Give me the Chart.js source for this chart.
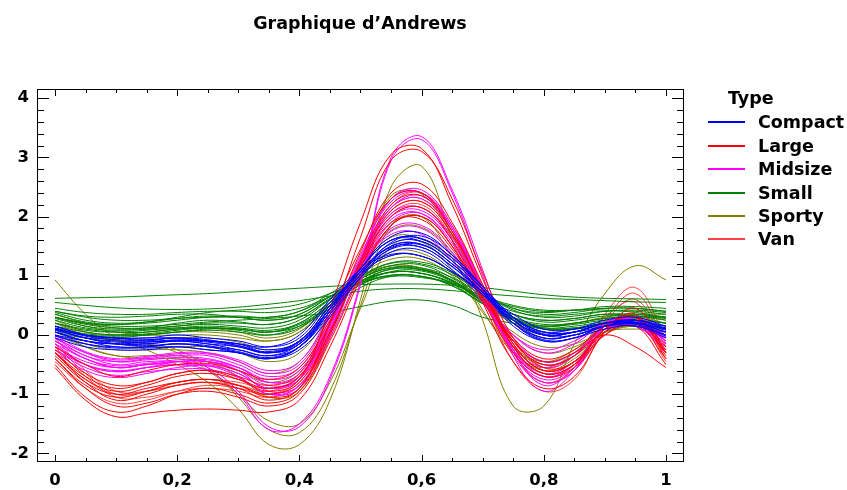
<!DOCTYPE html>
<html>
<head>
<meta charset="utf-8">
<script src="https://cdn.jsdelivr.net/npm/chart.js@4.4.1/dist/chart.umd.min.js"></script>
<style>
  body { margin: 0; background: #fff; }
  #wrap { position: relative; width: 847px; height: 490px; overflow: hidden;
          font-family: "DejaVu Sans", sans-serif; font-weight: bold; color: #000; }
  #chart { position: absolute; left: 0; top: 0; }
  #title { position: absolute; left: 0; top: 13px; width: 720px; text-align: center;
           font-size: 17.5px; line-height: 20px; }
  .lg { position: absolute; font-size: 17.5px; line-height: 20px; white-space: nowrap; }
  .lgline { position: absolute; width: 37px; height: 2px; }
</style>
</head>
<body>
<div id="wrap">
  <canvas id="chart" width="847" height="490"></canvas>
  <div id="title">Graphique d’Andrews</div>
  <div id="legend"></div>
</div>
<script>
// ====== data ======
// t positions where each curve was read
const T = [0,0.05,0.1,0.15,0.2,0.25,0.3,0.35,0.4,0.45,0.5,0.55,0.6,0.65,0.7,0.75,0.8,0.85,0.9,0.95,1];

const TYPES  = ["Compact","Large","Midsize","Small","Sporty","Van"];
const COLORS = ["#0000ff","#ff0000","#ff00ff","#008000","#808000","#ff4040"];

const X_TICKS  = [0,0.2,0.4,0.6,0.8,1];
const X_LABELS = ["0","0,2","0,4","0,6","0,8","1"];
const Y_TICKS  = [-2,-1,0,1,2,3,4];

const compact = [
  [0.15,0.0,-0.05,-0.05,0.0,-0.05,-0.1,-0.2,-0.05,0.55,1.05,1.45,1.48,1.15,0.72,0.3,0.05,0.1,0.2,0.25,0.15],
  [0.05,-0.1,-0.15,-0.15,-0.1,-0.15,-0.2,-0.3,-0.15,0.45,1.12,1.6,1.62,1.3,0.78,0.25,0.0,0.05,0.2,0.2,0.05],
  [0.1,-0.05,-0.15,-0.18,-0.15,-0.2,-0.3,-0.4,-0.2,0.4,1.12,1.66,1.72,1.35,0.82,0.25,-0.05,0.0,0.15,0.25,0.1],
  [0.0,-0.15,-0.2,-0.2,-0.15,-0.2,-0.25,-0.35,-0.2,0.35,0.97,1.4,1.43,1.1,0.68,0.2,-0.05,0.0,0.15,0.15,0.0],
  [0.1,-0.05,-0.1,-0.1,-0.05,-0.1,-0.15,-0.25,-0.1,0.5,1.07,1.5,1.53,1.2,0.72,0.3,0.05,0.05,0.15,0.2,0.1],
  [-0.05,-0.2,-0.25,-0.25,-0.2,-0.25,-0.3,-0.4,-0.25,0.3,0.97,1.46,1.52,1.2,0.72,0.15,-0.1,-0.05,0.1,0.15,-0.05],
  [0.15,0.0,-0.05,-0.05,-0.05,-0.1,-0.15,-0.2,0.0,0.6,1.1,1.36,1.33,1.07,0.73,0.35,0.1,0.1,0.25,0.3,0.15],
  [0.05,-0.1,-0.2,-0.22,-0.2,-0.25,-0.3,-0.4,-0.2,0.45,1.12,1.6,1.58,1.25,0.77,0.2,-0.1,-0.05,0.15,0.2,0.05],
  [0.0,-0.1,-0.15,-0.15,-0.1,-0.1,-0.15,-0.3,-0.15,0.4,1.02,1.56,1.67,1.35,0.82,0.3,0.0,0.0,0.15,0.2,0.0],
  [0.1,0.0,-0.05,-0.1,-0.1,-0.15,-0.25,-0.35,-0.15,0.45,1.02,1.34,1.33,1.07,0.68,0.25,0.0,0.05,0.2,0.25,0.1],
  [0.05,-0.1,-0.15,-0.12,-0.1,-0.12,-0.2,-0.3,-0.1,0.5,1.07,1.48,1.48,1.16,0.72,0.25,0.0,0.05,0.2,0.2,0.05],
  [0.12,-0.02,-0.08,-0.08,-0.05,-0.08,-0.18,-0.3,-0.12,0.45,1.07,1.54,1.58,1.25,0.77,0.3,0.05,0.05,0.2,0.25,0.12],
  [-0.02,-0.15,-0.22,-0.2,-0.15,-0.18,-0.28,-0.38,-0.2,0.4,1.02,1.5,1.53,1.2,0.72,0.2,-0.08,-0.05,0.15,0.18,-0.02],
  [0.08,-0.05,-0.12,-0.12,-0.08,-0.1,-0.18,-0.28,-0.1,0.5,1.12,1.6,1.63,1.3,0.82,0.3,0.02,0.05,0.2,0.22,0.08]
];

const large = [
  [-0.3,-0.7,-0.9,-0.8,-0.65,-0.6,-0.75,-0.95,-0.75,0.45,1.9,3.05,3.15,2.2,0.95,-0.15,-0.6,-0.45,0.05,0.25,-0.3],
  [-0.4,-0.85,-1.05,-0.95,-0.8,-0.75,-0.85,-1.05,-0.9,0.2,1.65,2.95,3.1,2.3,1.05,-0.05,-0.55,-0.45,0.1,0.35,-0.4],
  [-0.25,-0.65,-0.85,-0.8,-0.65,-0.6,-0.7,-0.85,-0.65,0.35,1.45,2.3,2.4,1.75,0.75,-0.1,-0.5,-0.35,0.15,0.3,-0.25],
  [-0.5,-1.05,-1.3,-1.2,-1.0,-0.9,-1.0,-1.15,-0.95,0.0,1.25,2.2,2.35,1.75,0.75,-0.2,-0.65,-0.5,0.0,0.15,-0.5],
  [-0.55,-1.1,-1.38,-1.32,-1.27,-1.25,-1.27,-1.3,-1.1,-0.2,0.95,1.85,2.0,1.5,0.65,-0.1,-0.45,-0.3,0.0,-0.2,-0.55],
  [-0.35,-0.8,-1.0,-0.9,-0.8,-0.75,-0.85,-1.0,-0.8,0.05,1.2,2.1,2.25,1.7,0.75,-0.15,-0.6,-0.45,0.1,0.3,-0.35],
  [-0.3,-0.8,-1.1,-1.0,-0.85,-0.8,-0.9,-1.1,-0.9,0.05,1.15,2.0,2.15,1.6,0.55,-0.45,-0.9,-0.7,0.05,0.45,-0.3],
  [-0.2,-0.5,-0.7,-0.6,-0.5,-0.48,-0.6,-0.75,-0.55,0.25,1.15,1.9,1.95,1.45,0.65,-0.05,-0.4,-0.25,0.15,0.3,-0.2],
  [-0.4,-0.9,-1.2,-1.15,-1.0,-0.95,-1.05,-1.2,-1.0,-0.1,1.0,1.85,2.0,1.5,0.6,-0.3,-0.7,-0.55,0.0,0.2,-0.4],
  [-0.3,-0.75,-0.95,-0.85,-0.7,-0.65,-0.75,-0.9,-0.7,0.2,1.4,2.4,2.55,1.9,0.85,-0.2,-0.65,-0.5,0.1,0.3,-0.3]
];

const midsize = [
  [-0.1,-0.35,-0.5,-0.45,-0.45,-0.55,-0.95,-1.55,-1.55,-0.75,0.85,2.95,3.3,2.4,1.0,-0.35,-0.95,-0.6,0.15,0.3,-0.1],
  [-0.15,-0.4,-0.55,-0.5,-0.5,-0.6,-1.0,-1.6,-1.5,-0.7,0.9,3.0,3.35,2.45,1.1,-0.25,-0.85,-0.55,0.2,0.25,-0.15],
  [-0.05,-0.35,-0.45,-0.4,-0.35,-0.35,-0.5,-0.7,-0.55,0.25,1.25,2.05,2.15,1.65,0.75,-0.05,-0.45,-0.3,0.15,0.2,-0.05],
  [-0.2,-0.5,-0.62,-0.55,-0.5,-0.5,-0.65,-0.9,-0.75,0.15,1.25,2.15,2.3,1.75,0.8,-0.15,-0.6,-0.45,0.1,0.2,-0.2],
  [-0.1,-0.4,-0.52,-0.48,-0.42,-0.42,-0.55,-0.8,-0.7,0.1,1.15,1.95,2.05,1.5,0.6,-0.2,-0.55,-0.35,0.15,0.25,-0.1],
  [-0.3,-0.6,-0.72,-0.65,-0.55,-0.52,-0.65,-0.9,-0.7,0.2,1.35,2.25,2.4,1.8,0.75,-0.3,-0.8,-0.6,0.05,0.15,-0.3],
  [-0.05,-0.3,-0.42,-0.38,-0.32,-0.32,-0.45,-0.65,-0.5,0.3,1.15,1.8,1.85,1.4,0.65,0.0,-0.3,-0.15,0.2,0.25,-0.05],
  [-0.25,-0.55,-0.68,-0.62,-0.58,-0.58,-0.72,-1.0,-0.85,0.05,1.2,2.15,2.35,1.8,0.8,-0.25,-0.7,-0.5,0.1,0.15,-0.25],
  [0.0,-0.28,-0.4,-0.36,-0.3,-0.3,-0.42,-0.6,-0.45,0.35,1.15,1.7,1.7,1.25,0.55,0.0,-0.25,-0.1,0.2,0.25,0.0],
  [-0.15,-0.5,-0.62,-0.55,-0.45,-0.45,-0.6,-0.95,-0.85,0.0,1.25,2.3,2.45,1.85,0.8,-0.3,-0.75,-0.55,0.1,0.2,-0.15],
  [-0.1,-0.4,-0.55,-0.5,-0.45,-0.45,-0.6,-0.85,-0.75,0.1,1.3,2.3,2.4,1.8,0.75,-0.25,-0.7,-0.5,0.1,0.2,-0.1],
  [-0.2,-0.45,-0.55,-0.5,-0.45,-0.45,-0.55,-0.75,-0.6,0.2,1.1,1.75,1.8,1.35,0.6,-0.1,-0.45,-0.3,0.1,0.15,-0.2],
  [-0.05,-0.3,-0.45,-0.42,-0.38,-0.4,-0.55,-0.8,-0.65,0.2,1.2,2.0,2.1,1.6,0.7,-0.1,-0.5,-0.35,0.15,0.25,-0.05],
  [-0.25,-0.5,-0.6,-0.55,-0.5,-0.52,-0.7,-1.0,-0.9,-0.05,1.05,1.9,2.05,1.55,0.65,-0.25,-0.65,-0.45,0.1,0.2,-0.25]
];

const small = [
  [0.62,0.63,0.64,0.66,0.68,0.7,0.73,0.76,0.79,0.82,0.85,0.86,0.86,0.84,0.8,0.74,0.68,0.64,0.62,0.61,0.6],
  [0.55,0.5,0.46,0.44,0.43,0.44,0.47,0.52,0.58,0.66,0.74,0.78,0.78,0.75,0.7,0.66,0.62,0.6,0.58,0.56,0.55],
  [0.3,0.2,0.15,0.15,0.18,0.22,0.25,0.28,0.32,0.38,0.48,0.57,0.59,0.5,0.3,0.2,0.15,0.2,0.28,0.32,0.3],
  [0.4,0.3,0.25,0.25,0.28,0.3,0.3,0.3,0.4,0.7,1.0,1.22,1.23,1.05,0.72,0.45,0.35,0.38,0.45,0.45,0.4],
  [0.3,0.18,0.12,0.12,0.15,0.18,0.15,0.12,0.25,0.6,0.95,1.17,1.18,0.96,0.62,0.35,0.25,0.28,0.35,0.35,0.3],
  [0.2,0.1,0.05,0.05,0.1,0.12,0.1,0.05,0.2,0.55,0.9,1.11,1.1,0.92,0.58,0.3,0.18,0.2,0.28,0.28,0.2],
  [0.25,0.12,0.08,0.1,0.15,0.2,0.2,0.18,0.3,0.6,0.9,1.06,1.04,0.88,0.58,0.35,0.25,0.28,0.35,0.32,0.25],
  [0.1,0.0,-0.02,0.0,0.05,0.08,0.05,0.0,0.15,0.5,0.85,1.07,1.08,0.9,0.56,0.25,0.1,0.12,0.2,0.2,0.1],
  [0.35,0.22,0.18,0.2,0.25,0.3,0.32,0.3,0.4,0.65,0.92,1.06,1.04,0.88,0.6,0.4,0.32,0.35,0.4,0.4,0.35],
  [0.15,0.05,0.0,0.02,0.08,0.12,0.1,0.05,0.18,0.5,0.85,1.01,0.99,0.83,0.53,0.25,0.12,0.15,0.22,0.22,0.15],
  [0.3,0.2,0.18,0.22,0.3,0.38,0.42,0.45,0.52,0.7,0.88,0.99,0.97,0.86,0.66,0.5,0.42,0.42,0.42,0.38,0.3],
  [0.05,-0.05,-0.05,0.0,0.05,0.1,0.1,0.05,0.15,0.45,0.8,0.99,0.99,0.83,0.53,0.25,0.1,0.1,0.15,0.15,0.05],
  [0.4,0.32,0.3,0.32,0.35,0.35,0.3,0.25,0.35,0.65,0.95,1.14,1.13,0.97,0.68,0.45,0.38,0.42,0.45,0.45,0.4],
  [0.28,0.15,0.1,0.12,0.2,0.25,0.22,0.18,0.3,0.62,0.95,1.13,1.11,0.93,0.6,0.35,0.22,0.25,0.32,0.32,0.28],
  [0.2,0.08,0.05,0.08,0.12,0.15,0.12,0.08,0.2,0.55,0.88,1.06,1.04,0.86,0.53,0.28,0.15,0.18,0.25,0.25,0.2],
  [0.38,0.25,0.2,0.22,0.28,0.32,0.3,0.25,0.35,0.65,0.98,1.21,1.2,1.02,0.7,0.42,0.3,0.32,0.4,0.42,0.38],
  [0.12,0.02,0.0,0.05,0.1,0.12,0.08,0.0,0.12,0.5,0.9,1.11,1.1,0.92,0.58,0.28,0.12,0.12,0.18,0.18,0.12],
  [0.45,0.38,0.35,0.35,0.38,0.4,0.4,0.38,0.45,0.65,0.88,1.01,0.99,0.86,0.63,0.48,0.4,0.42,0.48,0.48,0.45]
];

const sporty = [
  [0.93,0.35,-0.05,-0.25,-0.5,-0.8,-1.25,-1.85,-1.85,-1.1,0.6,2.5,2.85,1.6,0.25,-1.2,-1.2,-0.15,0.7,1.17,0.93],
  [0.25,0.05,-0.1,-0.15,-0.25,-0.55,-1.05,-1.6,-1.65,-0.95,0.5,1.85,2.0,1.3,0.42,-0.3,-0.55,-0.3,0.2,0.35,0.25],
  [0.2,0.0,-0.1,-0.15,-0.3,-0.6,-1.0,-1.45,-1.5,-0.8,0.45,1.5,1.57,1.1,0.38,-0.2,-0.45,-0.25,0.15,0.3,0.2],
  [0.3,0.15,0.05,0.0,0.0,0.0,-0.05,-0.1,0.05,0.55,1.02,1.28,1.28,1.0,0.58,0.2,0.0,0.05,0.2,0.3,0.3],
  [0.2,0.05,0.0,0.0,0.05,0.05,0.0,-0.1,0.05,0.5,0.97,1.17,1.13,0.92,0.53,0.2,0.05,0.1,0.2,0.25,0.2],
  [0.1,-0.05,-0.15,-0.2,-0.2,-0.2,-0.3,-0.45,-0.3,0.35,1.02,1.4,1.38,1.05,0.53,0.05,-0.2,-0.15,0.05,0.15,0.1],
  [0.0,-0.2,-0.35,-0.4,-0.4,-0.45,-0.6,-0.8,-0.6,0.2,1.15,1.77,1.82,1.38,0.57,-0.2,-0.5,-0.35,0.05,0.15,0.0],
  [0.15,0.0,-0.08,-0.08,-0.05,-0.05,-0.12,-0.25,-0.1,0.45,1.02,1.34,1.33,1.06,0.63,0.2,-0.05,0.0,0.15,0.2,0.15],
  [0.35,0.2,0.12,0.1,0.12,0.12,0.05,-0.05,0.1,0.55,0.97,1.17,1.13,0.92,0.58,0.3,0.15,0.2,0.3,0.35,0.35],
  [0.05,-0.15,-0.25,-0.25,-0.25,-0.3,-0.45,-0.65,-0.45,0.3,1.12,1.65,1.62,1.25,0.62,0.0,-0.3,-0.2,0.05,0.1,0.05],
  [0.1,-0.2,-0.35,-0.35,-0.35,-0.45,-0.7,-1.05,-0.95,-0.05,1.25,2.35,2.38,1.68,0.68,-0.25,-0.6,-0.4,0.05,0.15,0.1]
];

const van = [
  [-0.05,-0.6,-0.95,-0.95,-0.85,-0.8,-0.85,-0.95,-0.7,0.2,1.25,2.1,2.25,1.7,0.75,-0.2,-0.7,-0.5,0.35,0.8,-0.05],
  [-0.15,-0.65,-1.0,-0.95,-0.85,-0.8,-0.9,-1.0,-0.75,0.2,1.3,2.15,2.3,1.7,0.7,-0.3,-0.8,-0.55,0.25,0.7,-0.15],
  [-0.3,-0.75,-1.0,-0.95,-0.8,-0.75,-0.8,-0.9,-0.7,0.15,1.25,2.2,2.4,1.85,0.85,-0.1,-0.55,-0.35,0.3,0.55,-0.3],
  [-0.45,-0.9,-1.15,-1.1,-0.95,-0.85,-0.9,-1.0,-0.8,0.1,1.2,2.05,2.2,1.65,0.65,-0.45,-0.95,-0.75,0.05,0.25,-0.45],
  [-0.2,-0.7,-1.05,-1.05,-0.95,-0.9,-0.95,-1.05,-0.85,0.05,1.15,2.0,2.15,1.6,0.65,-0.35,-0.8,-0.6,0.2,0.6,-0.2]
];

const GROUPS = [compact, large, midsize, small, sporty, van];

// ====== datasets ======
const datasets = [];
GROUPS.forEach((g, k) => {
  g.forEach(vals => {
    datasets.push({
      label: TYPES[k],
      data: vals.map((y, i) => ({ x: T[i], y })),
      borderColor: COLORS[k],
      borderWidth: 1,
      pointRadius: 0,
      tension: 0.4,
      fill: false
    });
  });
});

// cadre + graduations vers l'intérieur
const frameTicks = {
  id: "frameTicks",
  afterDraw(chart) {
    const { ctx, chartArea: { left, right, top, bottom }, scales: { x, y } } = chart;
    ctx.save();
    ctx.strokeStyle = "#000";
    ctx.lineWidth = 1;
    ctx.strokeRect(left + 0.5, top + 0.5, right - left - 1, bottom - top - 1);
    ctx.beginPath();
    for (let k = 0; k <= 20; k++) {
      const px = Math.round(x.getPixelForValue(k * 0.05)) + 0.5;
      const len = k % 4 === 0 ? 7 : 4;
      ctx.moveTo(px, bottom); ctx.lineTo(px, bottom - len);
      ctx.moveTo(px, top);    ctx.lineTo(px, top + len);
    }
    for (let k = 0; k <= 30; k++) {
      const py = Math.round(y.getPixelForValue(-2 + k * 0.2)) + 0.5;
      const len = k % 5 === 0 ? 12 : 7;
      ctx.moveTo(left, py);  ctx.lineTo(left + len, py);
      ctx.moveTo(right, py); ctx.lineTo(right - len, py);
    }
    ctx.stroke();
    ctx.restore();
  }
};

const tickFont = { family: "DejaVu Sans", size: 16.5, weight: "bold" };

new Chart(document.getElementById("chart"), {
  type: "line",
  data: { datasets },
  options: {
    responsive: false,
    animation: false,
    devicePixelRatio: 1,
    layout: { padding: { top: 89, right: 163, left: 0, bottom: 0 } },
    plugins: { legend: { display: false }, tooltip: { enabled: false }, title: { display: false } },
    scales: {
      x: {
        type: "linear", min: -0.0295, max: 1.0295,
        grid: { display: false, drawTicks: false },
        border: { display: false },
        afterBuildTicks: s => { s.ticks = X_TICKS.map(v => ({ value: v })); },
        afterFit: s => { s.height = 28; },
        ticks: { color: "#000", font: tickFont, padding: 9, autoSkip: false, maxRotation: 0,
                 callback: (v, i) => X_LABELS[i] }
      },
      y: {
        type: "linear", min: -2.145, max: 4.155,
        grid: { display: false, drawTicks: false },
        border: { display: false },
        afterBuildTicks: s => { s.ticks = Y_TICKS.map(v => ({ value: v })); },
        afterFit: s => { s.width = 37; },
        ticks: { color: "#000", font: tickFont, padding: 8, autoSkip: false,
                 callback: v => String(v) }
      }
    }
  },
  plugins: [frameTicks]
});

// ====== légende ======
const legend = document.getElementById("legend");
legend.innerHTML = `<div class="lg" style="left:728px;top:88px">Type</div>` +
  TYPES.map((name, i) => {
    const cy = 122.3 + i * 23.4;
    return `<div class="lgline" style="left:708px;top:${(cy - 1).toFixed(1)}px;background:${COLORS[i]}"></div>` +
           `<div class="lg" style="left:758px;top:${(cy - 10).toFixed(1)}px">${name}</div>`;
  }).join("");
</script>
</body>
</html>
